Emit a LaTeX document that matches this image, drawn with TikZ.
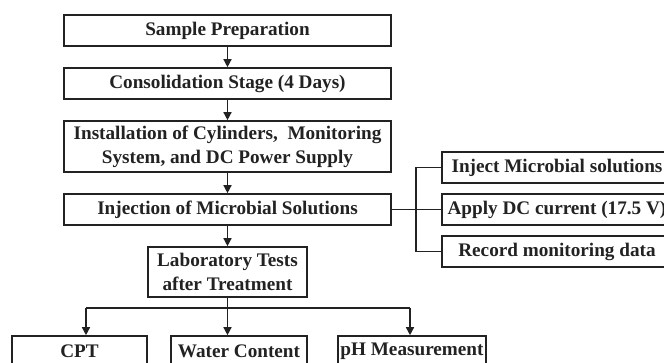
\documentclass[tikz,border=0pt]{standalone}
\usepackage{fontspec}
\setmainfont{Liberation Serif}
\usetikzlibrary{arrows.meta}
\definecolor{ink}{HTML}{222222}
\tikzset{
  box/.style={draw=ink, line width=1.6pt, fill=white, text=ink, inner sep=0pt, align=center,
    font=\bfseries\fontsize{19.2pt}{24pt}\selectfont},
  conn/.style={draw=ink, line width=1.4pt},
  arr/.style={conn, -{Triangle[length=8pt,width=8pt]}}
}
\begin{document}
\begin{tikzpicture}[x=1pt,y=-1pt]
\useasboundingbox (0,0) rectangle (664,363);
\clip (0,0) rectangle (664,363);
\fill[white] (0,0) rectangle (664,363);
% main column
\node[box, minimum width=327pt, minimum height=31pt] (sp) at (227.5,30.5) {Sample Preparation};
\node[box, minimum width=327pt, minimum height=31pt] (cs) at (227.5,83.5) {Consolidation Stage (4 Days)};
\node[box, minimum width=327pt, minimum height=51pt] (inst) at (227.5,146.5) {Installation of Cylinders,\ \ Monitoring\\System, and DC Power Supply};
\node[box, minimum width=327pt, minimum height=31pt] (inj) at (227.5,209.5) {Injection of Microbial Solutions};
\node[box, minimum width=159pt, minimum height=50pt] (lab) at (227.5,272) {Laboratory Tests\\after Treatment};
% right branch
\node[box, minimum width=230pt, minimum height=31pt] (r1) at (557,167.5) {Inject Microbial solutions};
\node[box, minimum width=230pt, minimum height=31pt] (r2) at (557,209.5) {Apply DC current (17.5 V)};
\node[box, minimum width=230pt, minimum height=31pt] (r3) at (557,251.5) {Record monitoring data};
% bottom row
\node[box, minimum width=135pt, minimum height=31pt] (cpt) at (79.5,351.5) {CPT};
\node[box, minimum width=136pt, minimum height=31pt] (wc) at (239,351.5) {Water Content};
\node[box, minimum width=148pt, minimum height=31pt] (ph) at (412,351.5) {pH Measurement};
% connectors
\draw[arr] (sp.south) -- (cs.north);
\draw[arr] (cs.south) -- (inst.north);
\draw[arr] (inst.south) -- (inj.north);
\draw[arr] (inj.south) -- (lab.north);
\coordinate (vb) at (416,209.5);
\draw[conn] (inj.east) -- (vb);
\draw[conn] (r1.west) -| (vb) |- (r3.west);
\draw[conn] (vb) -- (r2.west);
\coordinate (bl) at (86,308);
\coordinate (br) at (410,308);
\draw[conn] (bl) -- (br);
\draw[arr] (bl) -- (bl |- cpt.north);
\draw[arr] (br) -- (br |- ph.north);
\draw[arr] (lab.south) -- (lab.south |- wc.north);
\end{tikzpicture}
\end{document}
